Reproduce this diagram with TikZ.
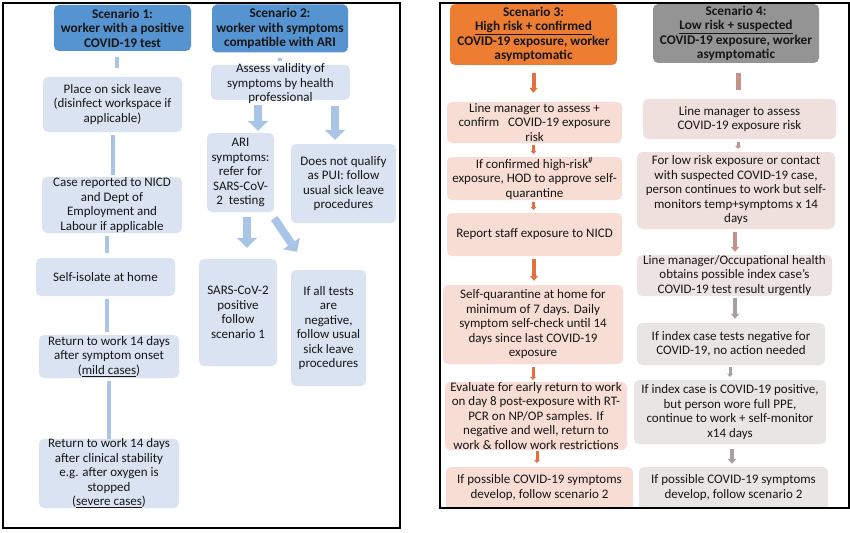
\documentclass[tikz,border=0pt]{standalone}
\usepackage{fontspec}
\setmainfont{Carlito}
\usetikzlibrary{arrows.meta,calc}
\definecolor{hblue}{RGB}{85,147,209}
\definecolor{lblue}{RGB}{218,227,242}
\definecolor{ablue}{RGB}{168,197,232}
\definecolor{horange}{RGB}{237,125,49}
\definecolor{lpink}{RGB}{248,221,212}
\definecolor{aorange}{RGB}{228,112,62}
\definecolor{hgray}{RGB}{148,148,148}
\definecolor{gA}{RGB}{240,224,221}
\definecolor{gB}{RGB}{236,228,226}
\definecolor{gC}{RGB}{232,229,229}
\definecolor{arose}{RGB}{196,146,140}
\definecolor{agray}{RGB}{166,160,160}
\definecolor{txt}{RGB}{22,22,22}
\begin{document}
\begin{tikzpicture}[x=1pt,y=-1pt,
  box/.style={rounded corners=5pt, inner sep=0pt, align=center, text=txt,
    font=\fontsize{13}{14.5}\selectfont},
  hbox/.style={box, font=\bfseries\fontsize{13.3}{14.5}\selectfont},
  plain/.style={inner sep=0pt, align=center, text=txt, font=\fontsize{13}{14.5}\selectfont},
  bline/.style={draw=ablue, line width=4pt},
  barrow/.style={draw=ablue, line width=8pt, -{Triangle[width=20pt,length=10pt]}},
  rarrow/.style={line width=4pt, -{Triangle[width=8pt,length=5pt]}},
  stub/.style={line width=3pt, -{Triangle[width=6pt,length=3pt]}},
  frame/.style={draw=black, line width=1.5pt}
]
\useasboundingbox (0,0) rectangle (850,532);
\fill[white] (0,0) rectangle (850,532);

% ---------------- left panel ----------------
\node[hbox, fill=hblue, minimum width=137, minimum height=46] (s1) at (122.5,28)
  {Scenario 1:\\worker with a positive\\COVID-19 test};
\node[hbox, fill=hblue, minimum width=136, minimum height=48] (s2) at (280,28.5)
  {Scenario 2:\\worker with symptoms\\compatible with ARI};
\node[box, fill=lblue, minimum width=139, minimum height=55] (place) at (112.5,104.5)
  {Place on sick leave\\(disinfect workspace if\\applicable)};
\node[box, fill=lblue, minimum width=139, minimum height=35] (assess) at (280.5,82.5) {};
\node[plain] (assesst) at (280.5,84) {Assess validity of\\symptoms by health\\professional};
\node[box, fill=lblue, minimum width=67, minimum height=79] (ari) at (240.5,172.5)
  {ARI\\symptoms:\\refer for\\SARS-CoV-\\2 ~testing};
\node[box, fill=lblue, minimum width=105, minimum height=79] (dnq) at (343.5,183.5)
  {Does not qualify\\as PUI: follow\\usual sick leave\\procedures};
\node[box, fill=lblue, minimum width=140, minimum height=56] (case) at (112,205)
  {Case reported to NICD\\and Dept of\\Employment and\\Labour if applicable};
\node[box, fill=lblue, minimum width=139, minimum height=38] (self) at (105.5,277)
  {Self-isolate at home};
\node[box, fill=lblue, minimum width=78, minimum height=107] (sars) at (238,312.5)
  {SARS-CoV-2\\positive\\follow\\scenario 1};
\node[box, fill=lblue, minimum width=75, minimum height=116] (neg) at (328.5,328)
  {If all tests\\are\\negative,\\follow usual\\sick leave\\procedures};
\node[box, fill=lblue, minimum width=140, minimum height=43] (mild) at (109,356.5)
  {Return to work 14 days\\after symptom onset\\(\underline{mild cases})};
\node[box, fill=lblue, minimum width=140, minimum height=69] (severe) at (109,473.5)
  {Return to work 14 days\\after clinical stability\\e.g. after oxygen is\\stopped\\(\underline{severe cases})};

% left connectors
\draw[bline] ($(s1.south)+(-5.5,6)$) -- ($(place.north)+(4.5,-9)$);
\draw[bline] ($(s2.south)+(0,5)$) -- ($(assess.north)+(-0.5,-4)$);
\draw[bline] ($(place.south)+(0.5,3)$) -- ($(case.north)+(1,-2)$);
\draw[bline] ($(case.south)+(-5,3)$) -- ($(self.north)+(1.5,-5)$);
\draw[bline] ($(self.south)+(1.5,3)$) -- ($(mild.north)+(-2,-3)$);
\draw[bline] ($(mild.south)+(0,3)$) -- (severe.north);
\draw[barrow] ($(assess.south)+(-22.5,5)$) -- ($(ari.north)+(17.5,-2)$);
\draw[barrow] ($(assess.south)+(54.5,6)$) -- ($(dnq.north)+(-8.5,-4)$);
\draw[barrow] ($(ari.south)+(6.5,5)$) -- ($(sars.north)+(9,-11)$);
\draw[barrow] ($(ari.south east)+(0,6)$) -- ($(neg.north)+(-31.5,-18)$);

\draw[frame] (3,3) rectangle (400,528);

% ---------------- right panel ----------------
\node[hbox, fill=horange, minimum width=167, minimum height=61] (s3) at (533.5,34.5)
  {Scenario 3:\\\underline{High risk + confirmed}\\COVID-19 exposure, worker\\asymptomatic};
\node[hbox, fill=hgray, minimum width=166, minimum height=59] (s4) at (736,33.5)
  {Scenario 4:\\\underline{Low risk + suspected}\\COVID-19 exposure, worker\\asymptomatic};

\node[box, fill=lpink, minimum width=175, minimum height=41] (lm3) at (534.5,122.5)
  {Line manager to assess +\\confirm~~~COVID-19 exposure\\risk};
\node[box, fill=lpink, minimum width=175, minimum height=43] (conf) at (534.5,178.5)
  {If confirmed high-risk\textsuperscript{\#}\\exposure, HOD to approve self-\\quarantine};
\node[box, fill=lpink, minimum width=175, minimum height=43] (report) at (534.5,234.5)
  {Report staff exposure to NICD};
\node[box, fill=lpink, minimum width=180, minimum height=79] (quar) at (533,324.5)
  {Self-quarantine at home for\\minimum of 7 days. Daily\\symptom self-check until 14\\days since last COVID-19\\exposure};
\node[box, fill=lpink, minimum width=182, minimum height=68] (eval) at (536,416)
  {Evaluate for early return to work\\on day 8 post-exposure with RT-\\PCR on NP/OP samples. If\\negative and well, return to\\work \& follow work restrictions};
\fill[lpink] (446,497) rectangle (633,508);
\node[box, fill=lpink, minimum width=187, minimum height=41] (poss3) at (539.5,487.5)
  {If possible COVID-19 symptoms\\develop, follow scenario 2};

\node[box, fill=gA, minimum width=193, minimum height=40] (lm4) at (739.5,119)
  {Line manager to assess\\COVID-19 exposure risk};
\node[box, fill=gA, minimum width=198, minimum height=77] (low) at (736,190.5)
  {For low risk exposure or contact\\with suspected COVID-19 case,\\person continues to work but self-\\monitors temp+symptoms x 14\\days};
\node[box, fill=gB, minimum width=195, minimum height=41] (oh) at (734.5,275.5)
  {Line manager/Occupational health\\obtains possible index case's\\COVID-19 test result urgently};
\node[box, fill=gC, minimum width=188, minimum height=42] (ineg) at (731,344)
  {If index case tests negative for\\COVID-19, no action needed};
\node[box, fill=gC, minimum width=192, minimum height=64] (ipos) at (730,412)
  {If index case is COVID-19 positive,\\but person wore full PPE,\\continue to work + self-monitor\\x14 days};
\fill[gC] (639,497) rectangle (828,508);
\node[box, fill=gC, minimum width=189, minimum height=41] (poss4) at (733.5,487.5)
  {If possible COVID-19 symptoms\\develop, follow scenario 2};

% right connectors
\draw[rarrow, draw=aorange] ($(s3.south)+(0,8)$) -- ($(lm3.north)+(-1,-9)$);
\draw[stub, draw=aorange] ($(lm3.south)+(-1,2)$) -- ($(conf.north)+(-1,-3)$);
\draw[stub, draw=aorange] ($(conf.south)+(-1,2)$) -- ($(report.north)+(-1,-3)$);
\draw[rarrow, draw=aorange] ($(report.south)+(-0.5,3)$) -- ($(quar.north)+(1,-4)$);
\draw[stub, draw=aorange] ($(quar.south)+(0,3)$) -- ($(eval.north)+(-3,-2)$);
\draw[stub, draw=aorange] ($(eval.south)+(1,1)$) -- ($(poss3.north)+(-2.5,-4)$);

\draw[line width=5pt, draw=arose] ($(s4.south)+(2.5,10)$) -- ($(lm4.north)+(-1,-9)$);
\draw[stub, draw=arose] ($(lm4.south)+(-1.5,3)$) -- ($(low.north)+(2,-3)$);
\draw[rarrow, draw=arose] ($(low.south)+(-1,3)$) -- ($(oh.north)+(0.5,-3)$);
\draw[rarrow, draw=agray] ($(oh.south)+(0.5,2)$) -- ($(ineg.north)+(4,-4)$);
\draw[stub, draw=agray] ($(ineg.south)+(-1,2)$) -- ($(ipos.north)+(0,-3)$);
\draw[rarrow, draw=agray] ($(ipos.south)+(2,5)$) -- ($(poss4.north)+(-1.5,-3)$);

\draw[frame] (440,3) rectangle (849,508);
\end{tikzpicture}
\end{document}
